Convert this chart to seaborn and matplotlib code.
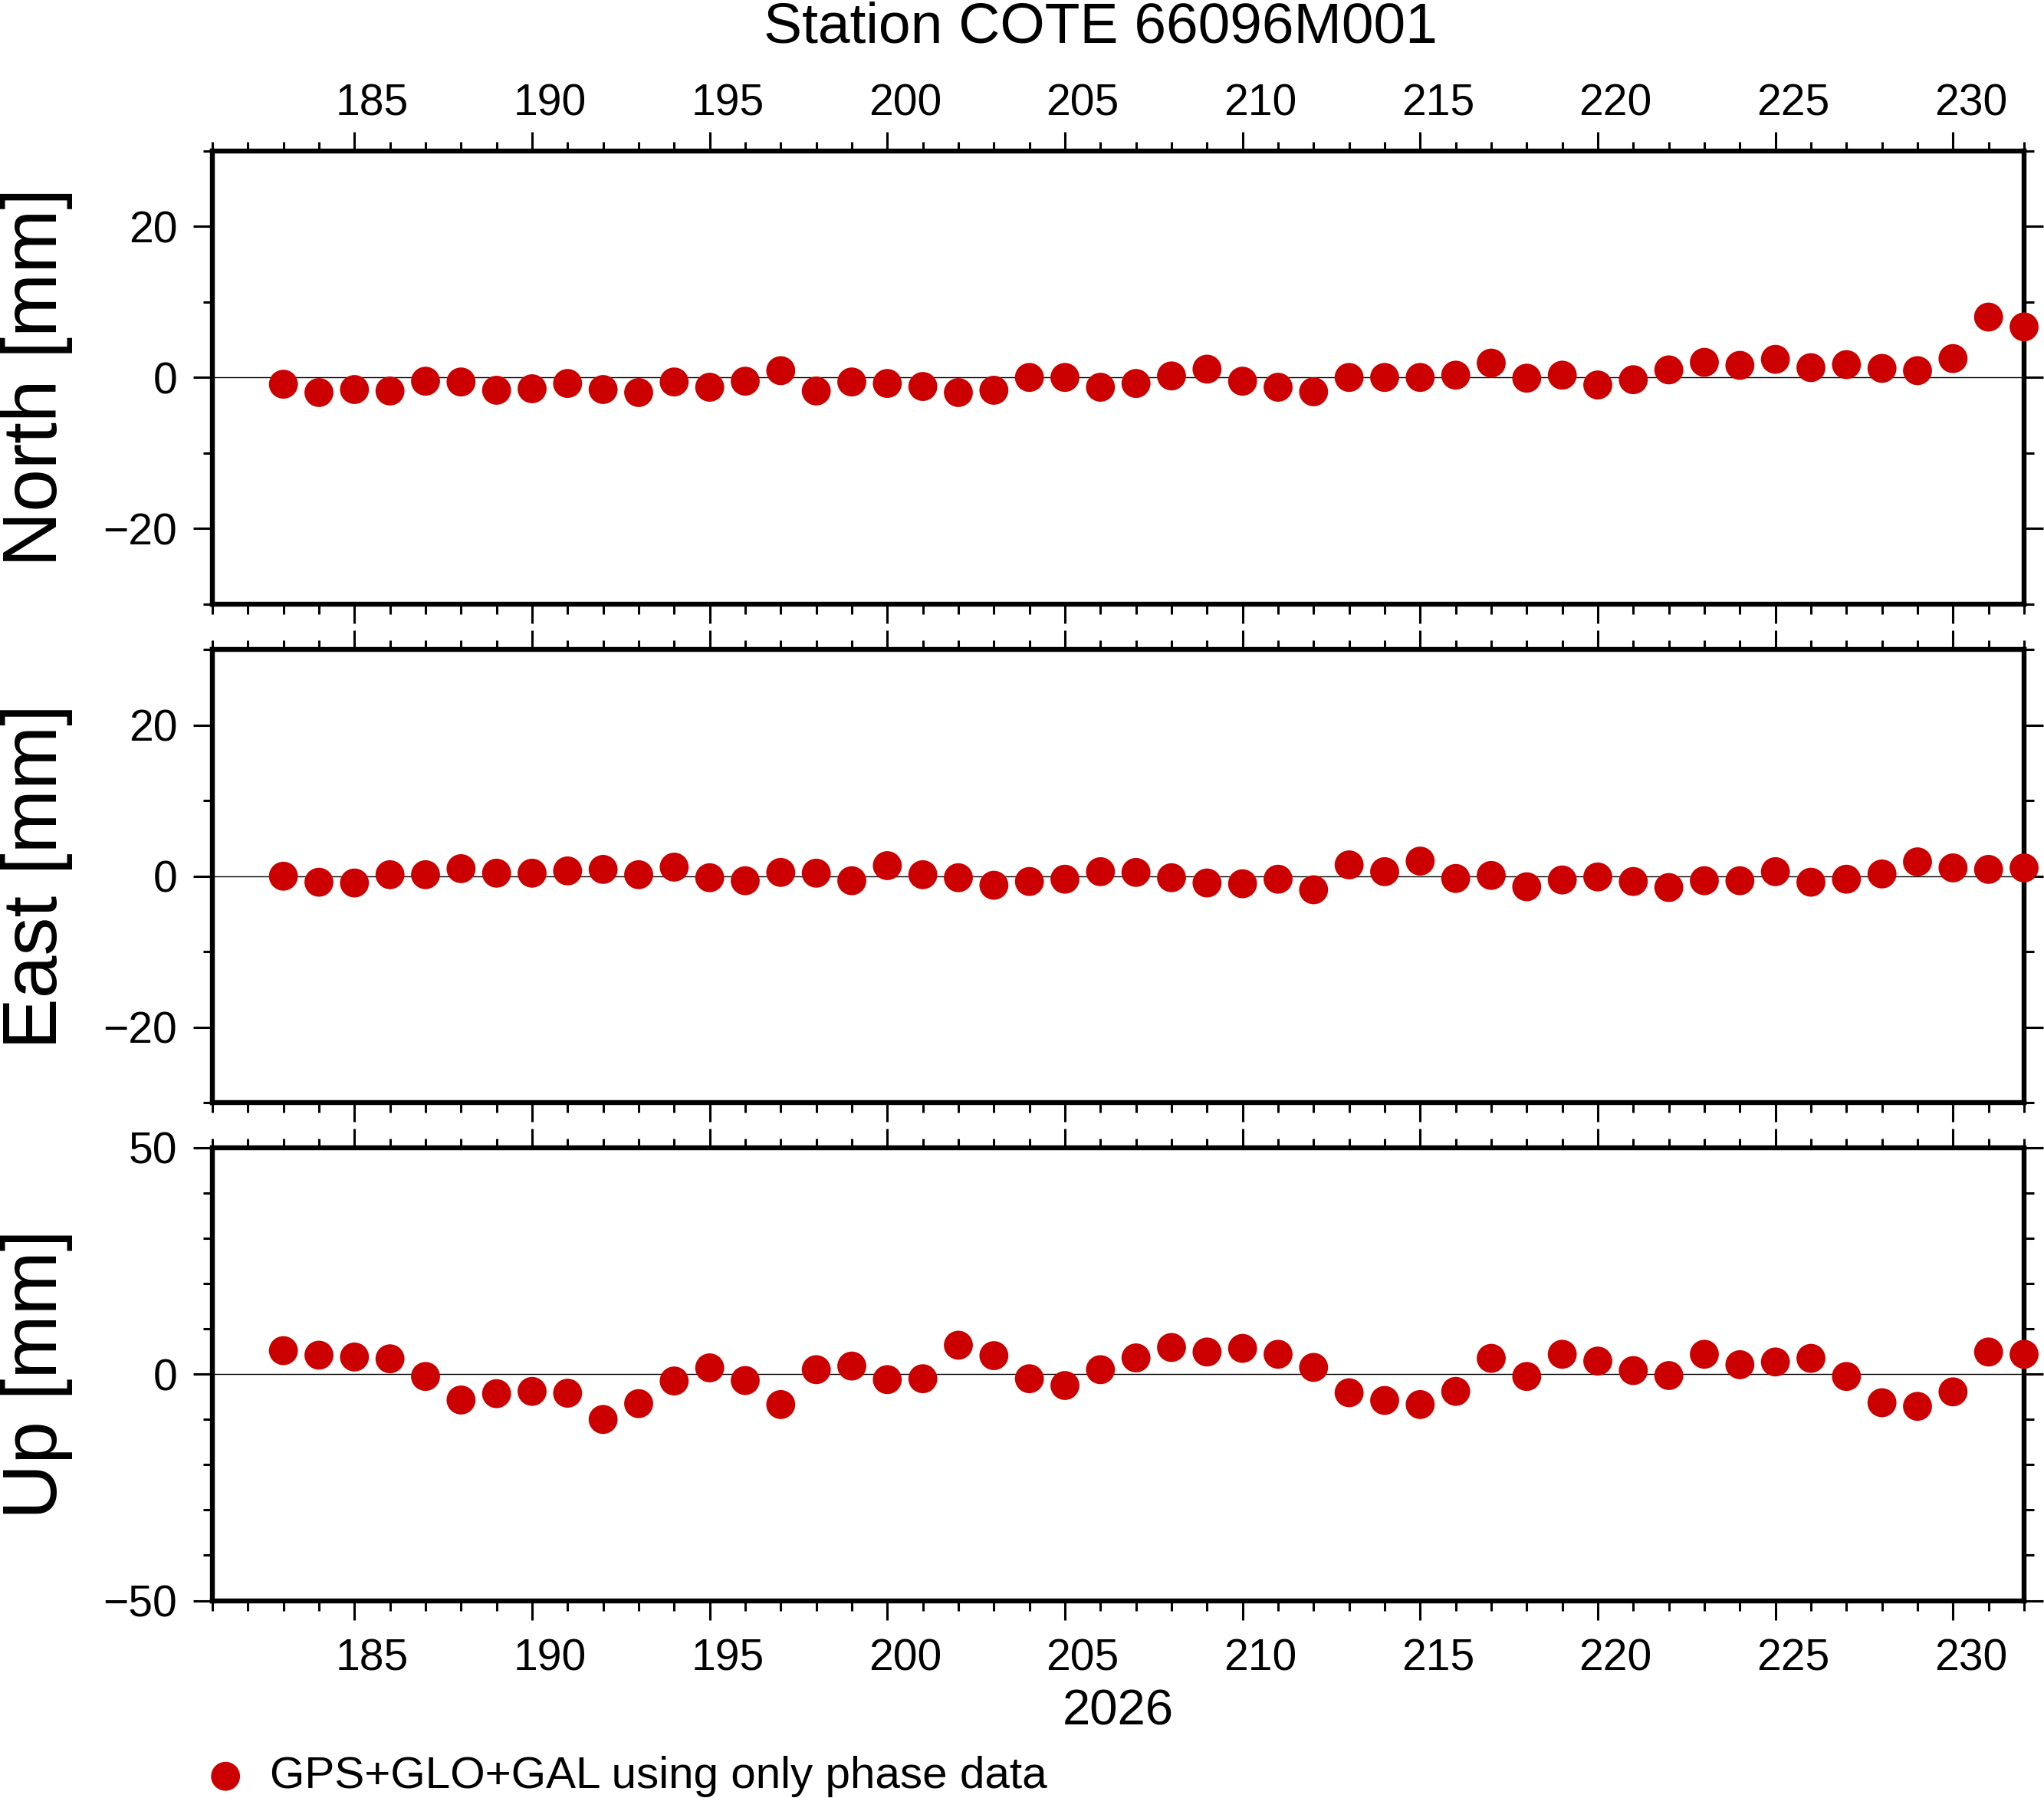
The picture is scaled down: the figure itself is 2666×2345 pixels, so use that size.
import numpy as np
import pandas as pd
import matplotlib
matplotlib.use("Agg")
import matplotlib.pyplot as plt
import matplotlib.transforms as mtransforms
from matplotlib.ticker import MultipleLocator
import seaborn as sns

# day of year 2026
days = list(range(183, 233))

north = [-0.9, -2.0, -1.6, -1.8, -0.5, -0.6, -1.7, -1.5, -0.8, -1.6,
         -2.0, -0.6, -1.3, -0.5, 0.9, -1.8, -0.6, -0.8, -1.2, -2.0,
         -1.7, 0.0, 0.0, -1.3, -0.8, 0.2, 1.1, -0.5, -1.3, -1.9,
         0.0, 0.0, 0.0, 0.3, 1.9, -0.1, 0.3, -1.0, -0.3, 1.0,
         2.0, 1.6, 2.4, 1.3, 1.7, 1.2, 0.9, 2.5, 8.0, 6.7]

east = [0.0, -0.8, -0.9, 0.2, 0.2, 1.0, 0.4, 0.4, 0.7, 0.9,
        0.2, 1.2, -0.2, -0.6, 0.5, 0.4, -0.6, 1.4, 0.2, -0.2,
        -1.2, -0.7, -0.4, 0.6, 0.5, -0.2, -0.9, -1.0, -0.4, -1.8,
        1.5, 0.6, 2.0, -0.3, 0.1, -1.4, -0.5, -0.1, -0.7, -1.5,
        -0.6, -0.6, 0.6, -0.8, -0.4, 0.3, 1.9, 1.1, 0.9, 1.1]

up = [5.2, 4.2, 3.8, 3.4, -0.5, -5.7, -4.3, -3.8, -4.2, -10.0,
      -6.5, -1.5, 1.4, -1.4, -6.7, 1.0, 1.8, -1.2, -1.0, 6.4,
      4.1, -1.0, -2.5, 1.0, 3.6, 5.9, 4.9, 5.7, 4.4, 1.5,
      -4.1, -5.8, -6.7, -3.8, 3.5, -0.5, 4.4, 2.9, 0.8, -0.3,
      4.4, 2.1, 2.7, 3.5, -0.5, -6.3, -7.1, -3.9, 4.9, 4.4]

components = ["North [mm]", "East [mm]", "Up [mm]"]
y_limits = [(-30, 30), (-30, 30), (-50, 50)]
y_major = [20, 20, 50]
x_limits = (181, 232)

title_text = "Station COTE 66096M001"
year_text = "2026"
legend_text = "GPS+GLO+GAL using only phase data"

df = pd.DataFrame({"day": days, "North [mm]": north,
                   "East [mm]": east, "Up [mm]": up})

sns.set_theme(style="ticks")
plt.rcParams["font.family"] = ["Liberation Sans", "DejaVu Sans"]
plt.rcParams["text.color"] = "black"
plt.rcParams["axes.labelcolor"] = "black"
plt.rcParams["xtick.color"] = "black"
plt.rcParams["ytick.color"] = "black"
plt.rcParams["axes.edgecolor"] = "black"

red = "#cc0000"
W, H, DPI = 2666, 2345, 200
fig = plt.figure(figsize=(W / DPI, H / DPI), dpi=DPI)
fig.patch.set_facecolor("white")

left_px, right_px = 277, 2640
panel_tops = [197, 847.5, 1497]
panel_h = 590.5

axes = []
for i, comp in enumerate(components):
    top = panel_tops[i]
    rect = [left_px / W, 1 - (top + panel_h) / H,
            (right_px - left_px) / W, panel_h / H]
    ax = fig.add_axes(rect)
    ax.set_facecolor("white")
    ax.axhline(0, color="black", lw=0.5, zorder=1)
    sns.scatterplot(data=df, x="day", y=comp, ax=ax, color=red, s=185,
                    edgecolor="none", linewidth=0, clip_on=False, zorder=3,
                    label=legend_text if i == 2 else None, legend=False)
    ax.set_xlim(*x_limits)
    ax.set_ylim(*y_limits[i])
    ax.xaxis.set_major_locator(MultipleLocator(5))
    ax.xaxis.set_minor_locator(MultipleLocator(1))
    ax.yaxis.set_major_locator(MultipleLocator(y_major[i]))
    ax.yaxis.set_minor_locator(MultipleLocator(10))
    for s in ax.spines.values():
        s.set_linewidth(2.3)
        s.set_color("black")
    ax.tick_params(which="both", direction="out", top=True, bottom=True,
                   left=True, right=True, width=1.1, colors="black")
    ax.tick_params(which="major", length=9)
    ax.tick_params(which="minor", length=4.5)
    ax.tick_params(axis="x", which="major", labelsize=20.5,
                   pad=3.3 if i == 0 else 8.8,
                   labeltop=(i == 0), labelbottom=(i == 2))
    ax.tick_params(axis="y", which="major", labelsize=20.5, pad=7.5,
                   labelleft=True, labelright=False)
    ax.set_xlabel("")
    ax.set_ylabel(comp, fontsize=36)
    ax.yaxis.set_label_coords(-0.077, 0.5)
    axes.append(ax)

# day labels sit centred in the day interval (half a day right of the tick)
for ax in axes:
    bbox = ax.get_position()
    day_in = bbox.width * fig.get_figwidth() / (x_limits[1] - x_limits[0])
    shift = mtransforms.ScaledTranslation(0.5 * day_in, 0, fig.dpi_scale_trans)
    for tick in ax.xaxis.get_major_ticks():
        tick.label1.set_transform(tick.label1.get_transform() + shift)
        tick.label2.set_transform(tick.label2.get_transform() + shift)

fig.text(0.5385, 1 - 56 / H, title_text, fontsize=27, ha="center",
         va="baseline")
fig.text((left_px + right_px) / 2 / W, 1 - 2250 / H, year_text,
         fontsize=23.5, ha="center", va="baseline")

handles, labels = axes[2].get_legend_handles_labels()
fig.legend(handles, labels, loc="center left",
           bbox_to_anchor=(265 / W, 1 - 2317 / H), frameon=False,
           fontsize=21, handlelength=1.0, handletextpad=0.5,
           borderpad=0, borderaxespad=0, scatterpoints=1)

fig.savefig("out.png", dpi=DPI, facecolor="white")
